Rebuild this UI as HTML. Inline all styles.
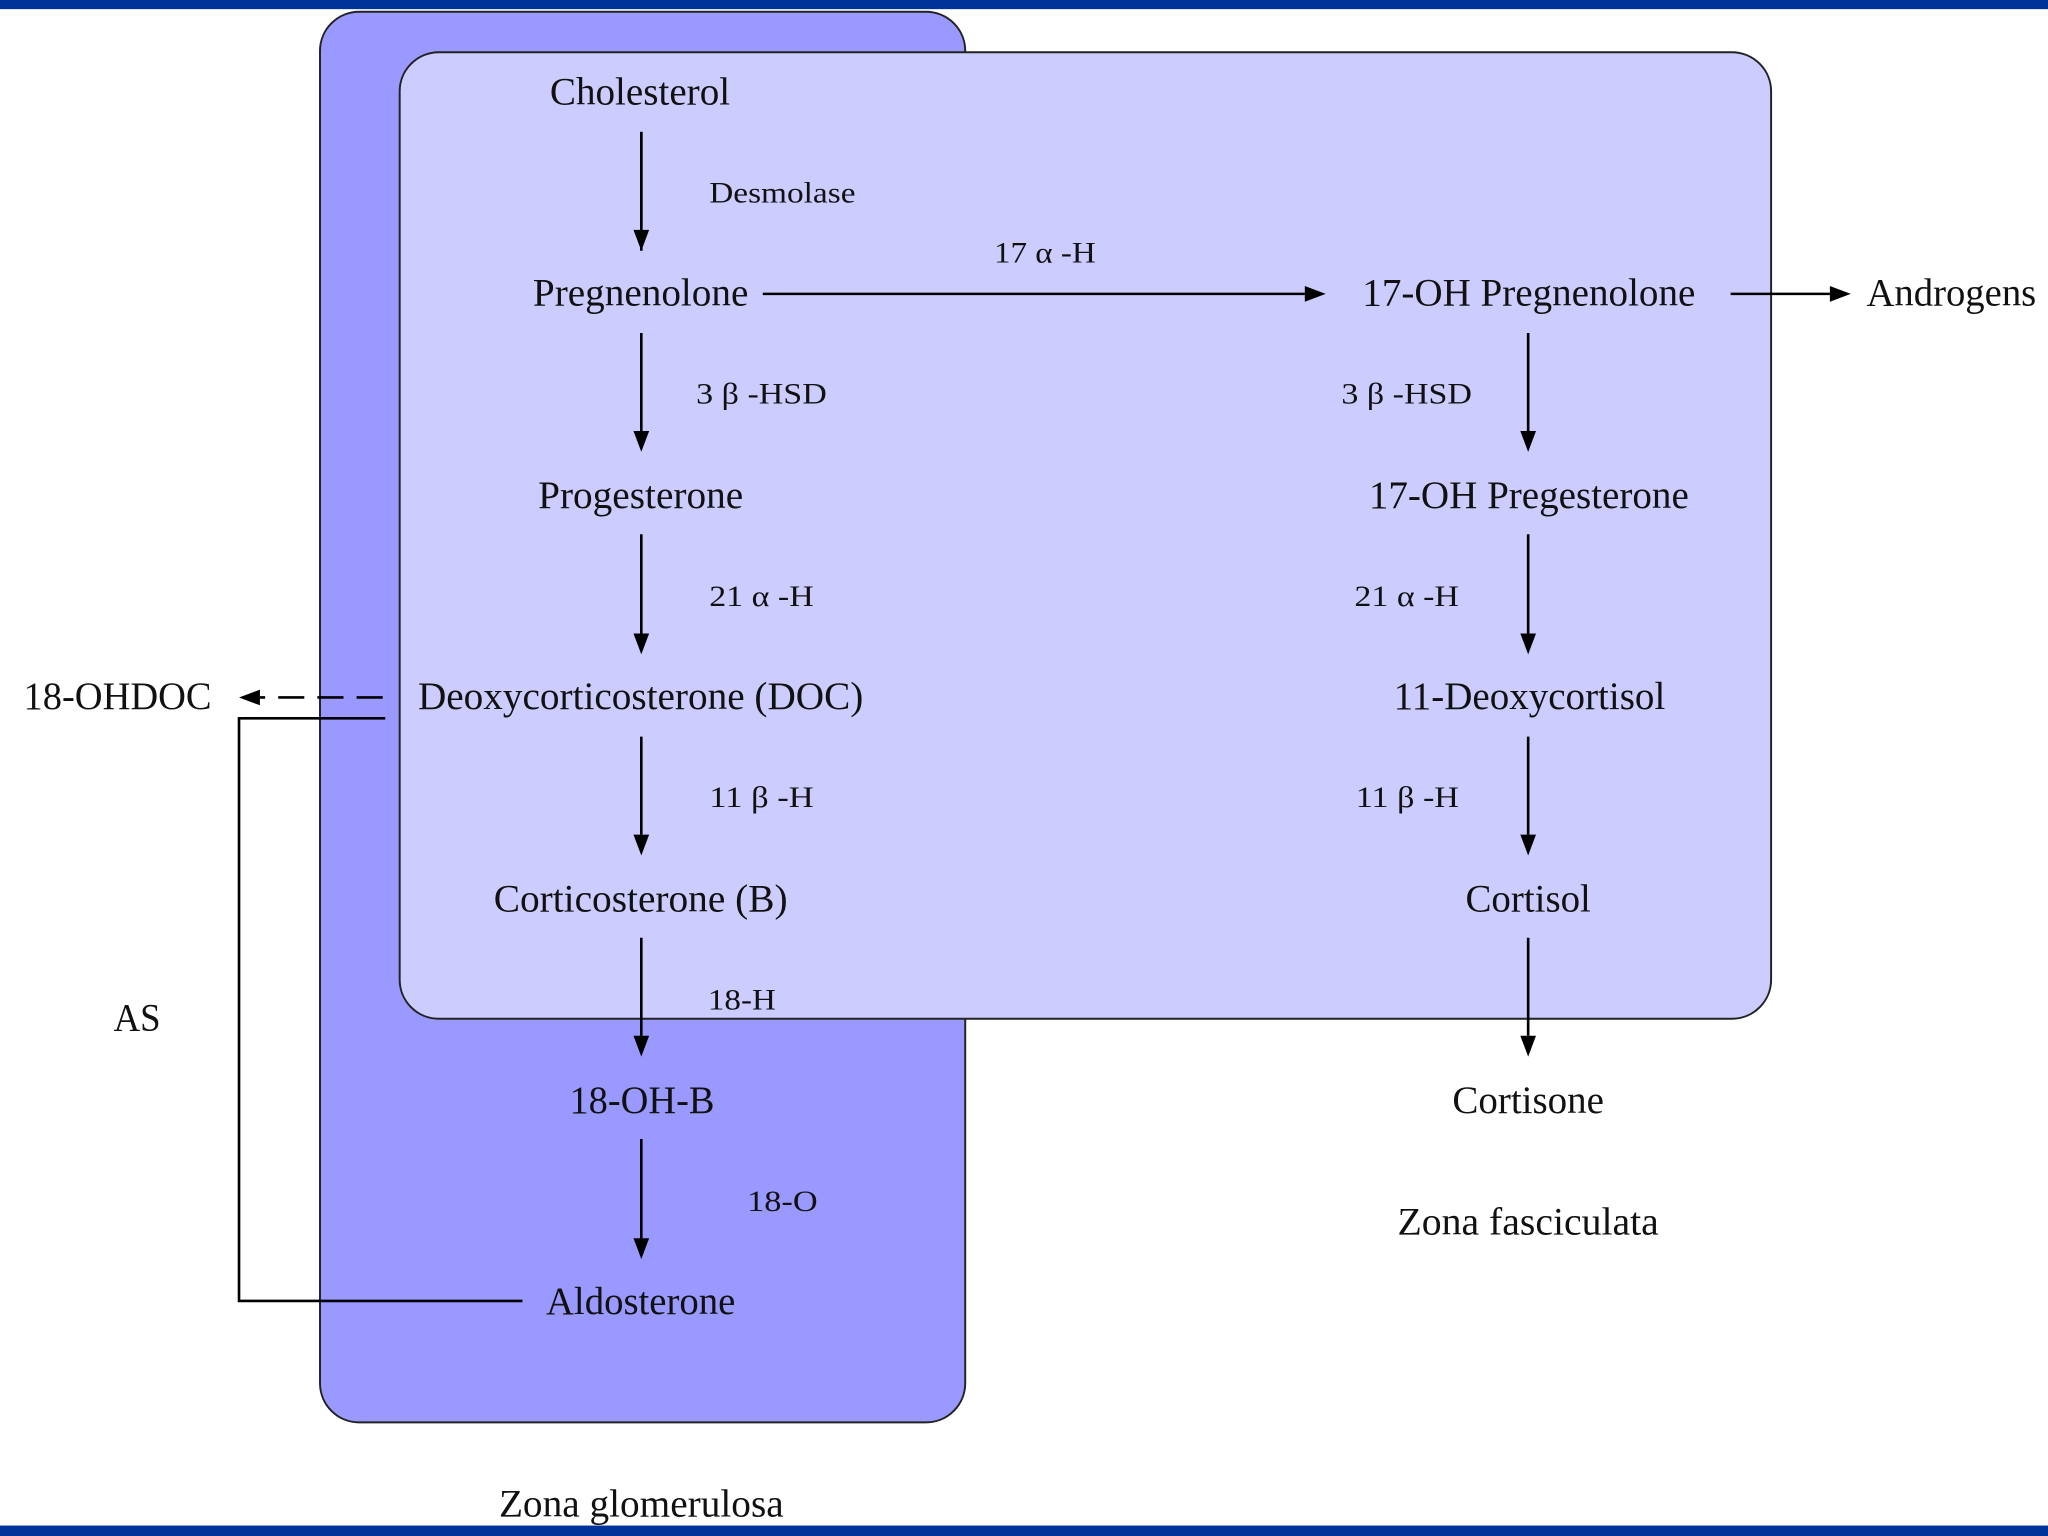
<!DOCTYPE html>
<html><head><meta charset="utf-8"><style>
html,body{margin:0;padding:0;background:#fff;}
svg{display:block;}
text{font-family:"Liberation Serif",serif;fill:#111;}
.m{font-size:30px;}
.e{font-size:23px;}
</style></head><body>
<svg width="2048" height="1536" viewBox="0 0 1568 1176" preserveAspectRatio="none" xmlns="http://www.w3.org/2000/svg">
<defs>
<marker id="a" markerWidth="10" markerHeight="10" refX="9" refY="5" orient="auto" markerUnits="userSpaceOnUse" viewBox="0 0 10 10">
<path d="M0,0 L10,5 L0,10 z" fill="#000"/></marker>
<marker id="ah" markerWidth="18" markerHeight="12" refX="17" refY="6" orient="auto" markerUnits="userSpaceOnUse" viewBox="0 0 18 12">
<path d="M0,0 L18,6 L0,12 z" fill="#000"/></marker>
<marker id="av" markerWidth="12" markerHeight="20" refX="6" refY="19" orient="auto-start-reverse" markerUnits="userSpaceOnUse" viewBox="0 0 12 20">
<path d="M0,0 L12,0 L6,20 z" fill="#000"/></marker>
</defs>
<rect x="0" y="0" width="1568" height="7" fill="#003399"/>
<rect x="0" y="1168" width="1568" height="8" fill="#003399"/>
<rect x="245" y="9" width="494" height="1080" rx="30" fill="#9999ff" stroke="#222" stroke-width="1.5"/>
<rect x="306" y="40" width="1050" height="740" rx="30" fill="#ccccff" stroke="#222" stroke-width="1.5"/>

<!-- left column arrows -->
<g stroke="#000" stroke-width="2" fill="none">
<line x1="491" y1="101" x2="491" y2="192" marker-end="url(#ah)" style="marker-end:none"/>
</g>
<g fill="#000">
<path d="M491,101 V176" stroke="#000" stroke-width="2"/><path d="M485,176 L497,176 L491,192 z"/>
<path d="M491,255 V330" stroke="#000" stroke-width="2"/><path d="M485,330 L497,330 L491,346 z"/>
<path d="M491,409 V485" stroke="#000" stroke-width="2"/><path d="M485,485 L497,485 L491,501 z"/>
<path d="M491,564 V639" stroke="#000" stroke-width="2"/><path d="M485,639 L497,639 L491,655 z"/>
<path d="M491,718 V793" stroke="#000" stroke-width="2"/><path d="M485,793 L497,793 L491,809 z"/>
<path d="M491,872 V948" stroke="#000" stroke-width="2"/><path d="M485,948 L497,948 L491,964 z"/>
<path d="M1170,255 V330" stroke="#000" stroke-width="2"/><path d="M1164,330 L1176,330 L1170,346 z"/>
<path d="M1170,409 V485" stroke="#000" stroke-width="2"/><path d="M1164,485 L1176,485 L1170,501 z"/>
<path d="M1170,564 V639" stroke="#000" stroke-width="2"/><path d="M1164,639 L1176,639 L1170,655 z"/>
<path d="M1170,718 V793" stroke="#000" stroke-width="2"/><path d="M1164,793 L1176,793 L1170,809 z"/>
<path d="M584,225 H999" stroke="#000" stroke-width="2"/><path d="M999,219 L1015,225 L999,231 z"/>
<path d="M1325,225 H1401" stroke="#000" stroke-width="2"/><path d="M1401,219 L1417,225 L1401,231 z"/>
<path d="M293,534 H199" stroke="#000" stroke-width="2" stroke-dasharray="20,10"/><path d="M199,528 L183,534 L199,540 z"/>
</g>
<path d="M295,550 H183 V996 H400" stroke="#000" stroke-width="2" fill="none"/>

<!-- main labels -->
<g class="m" text-anchor="start">
<text class="m" x="421" y="80" textLength="138" lengthAdjust="spacingAndGlyphs">Cholesterol</text>
<text class="m" x="408" y="234" textLength="165" lengthAdjust="spacingAndGlyphs">Pregnenolone</text>
<text class="m" x="412" y="389" textLength="157" lengthAdjust="spacingAndGlyphs">Progesterone</text>
<text class="m" x="320" y="543" textLength="341" lengthAdjust="spacingAndGlyphs">Deoxycorticosterone (DOC)</text>
<text class="m" x="378" y="698" textLength="225" lengthAdjust="spacingAndGlyphs">Corticosterone (B)</text>
<text class="m" x="436" y="852" textLength="111" lengthAdjust="spacingAndGlyphs">18-OH-B</text>
<text class="m" x="418" y="1006" textLength="145" lengthAdjust="spacingAndGlyphs">Aldosterone</text>
<text class="m" x="1043" y="234" textLength="255" lengthAdjust="spacingAndGlyphs">17-OH Pregnenolone</text>
<text class="m" x="1048" y="389" textLength="245" lengthAdjust="spacingAndGlyphs">17-OH Pregesterone</text>
<text class="m" x="1067" y="543" textLength="208" lengthAdjust="spacingAndGlyphs">11-Deoxycortisol</text>
<text class="m" x="1122" y="698" textLength="96" lengthAdjust="spacingAndGlyphs">Cortisol</text>
<text class="m" x="1112" y="852" textLength="116" lengthAdjust="spacingAndGlyphs">Cortisone</text>
<text class="m" x="1429" y="234" textLength="130" lengthAdjust="spacingAndGlyphs">Androgens</text>
<text class="m" x="18" y="543" textLength="144" lengthAdjust="spacingAndGlyphs">18-OHDOC</text>
<text class="m" x="87" y="789" textLength="36" lengthAdjust="spacingAndGlyphs">AS</text>
<text class="m" x="1070" y="945" textLength="200" lengthAdjust="spacingAndGlyphs">Zona fasciculata</text>
<text class="m" x="382" y="1161" textLength="218" lengthAdjust="spacingAndGlyphs">Zona glomerulosa</text>
</g>
<!-- enzyme labels -->
<text class="e" x="543" y="155" textLength="112" lengthAdjust="spacingAndGlyphs">Desmolase</text>
<text class="e" x="533" y="309" textLength="100" lengthAdjust="spacingAndGlyphs">3 β -HSD</text>
<text class="e" x="543" y="464" textLength="80" lengthAdjust="spacingAndGlyphs">21 α -H</text>
<text class="e" x="543" y="618" textLength="80" lengthAdjust="spacingAndGlyphs">11 β -H</text>
<text class="e" x="542" y="773" textLength="52" lengthAdjust="spacingAndGlyphs">18-H</text>
<text class="e" x="572" y="927" textLength="54" lengthAdjust="spacingAndGlyphs">18-O</text>
<text class="e" x="761" y="201" textLength="78" lengthAdjust="spacingAndGlyphs">17 α -H</text>
<text class="e" x="1027" y="309" textLength="100" lengthAdjust="spacingAndGlyphs">3 β -HSD</text>
<text class="e" x="1037" y="464" textLength="80" lengthAdjust="spacingAndGlyphs">21 α -H</text>
<text class="e" x="1038" y="618" textLength="79" lengthAdjust="spacingAndGlyphs">11 β -H</text>
</svg>
</body></html>
